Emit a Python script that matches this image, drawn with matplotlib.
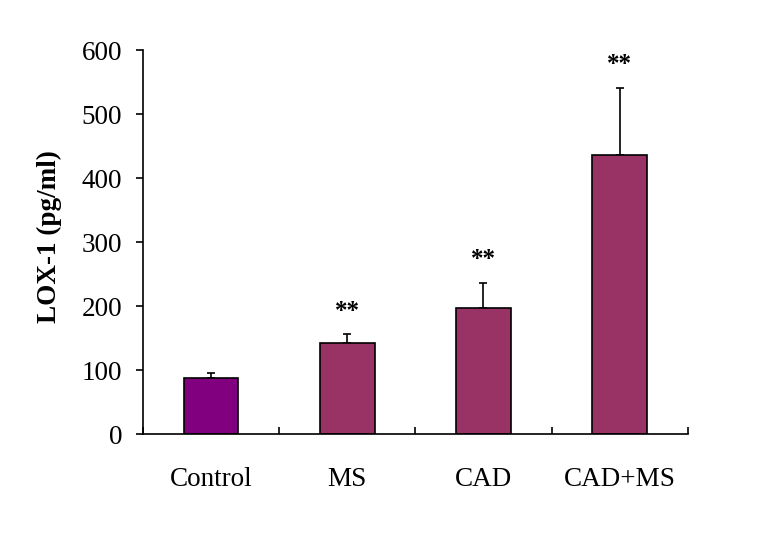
import matplotlib
matplotlib.use("Agg")
import matplotlib.pyplot as plt

categories = ["Control", "MS", "CAD", "CAD+MS"]
values = [87, 142, 197, 436]
errors = [9, 14, 39, 105]
stars = ["", "**", "**", "**"]
colors = ["#800080", "#993366", "#993366", "#993366"]

plt.rcParams['font.family'] = ['Liberation Serif', 'DejaVu Serif']

fig = plt.figure(figsize=(7.71, 5.44), dpi=100)
ax = fig.add_axes([0.1855, 0.2022, 0.7065, 0.7058])

x = list(range(len(categories)))
ax.bar(x, values, width=0.4, color=colors, edgecolor="black", linewidth=1.2, zorder=2)
ax.errorbar(x, values, yerr=[[0]*len(errors), errors], fmt="none", ecolor="black",
            elinewidth=1.2, capsize=3, capthick=1.2, zorder=1)
for xi, v, e, s in zip(x, values, errors, stars):
    if s:
        ax.text(xi, v + e + 18, s, ha="center", va="bottom", fontsize=18, fontweight="bold")

ax.set_xlim(-0.5, 3.5)
ax.set_ylim(0, 600)
ax.set_yticks([0, 100, 200, 300, 400, 500, 600])
ax.set_xticks(x)
ax.set_xticklabels(categories, fontsize=19.5)
ax.set_xticks([-0.5, 0.5, 1.5, 2.5, 3.5], minor=True)
ax.tick_params(axis="x", which="major", length=0, pad=24)
ax.tick_params(axis="x", which="minor", direction="in", length=5, width=1.2)
ax.tick_params(axis="y", direction="out", length=5, width=1.2, labelsize=19.5, pad=10)
for sp in ["top", "right"]:
    ax.spines[sp].set_visible(False)
ax.spines["left"].set_linewidth(1.2)
ax.spines["bottom"].set_linewidth(1.2)
ax.set_ylabel("LOX-1 (pg/ml)", fontsize=19.5, fontweight="bold")
ax.yaxis.set_label_coords(-0.149, 0.515)

fig.savefig("out.png", dpi=100)
